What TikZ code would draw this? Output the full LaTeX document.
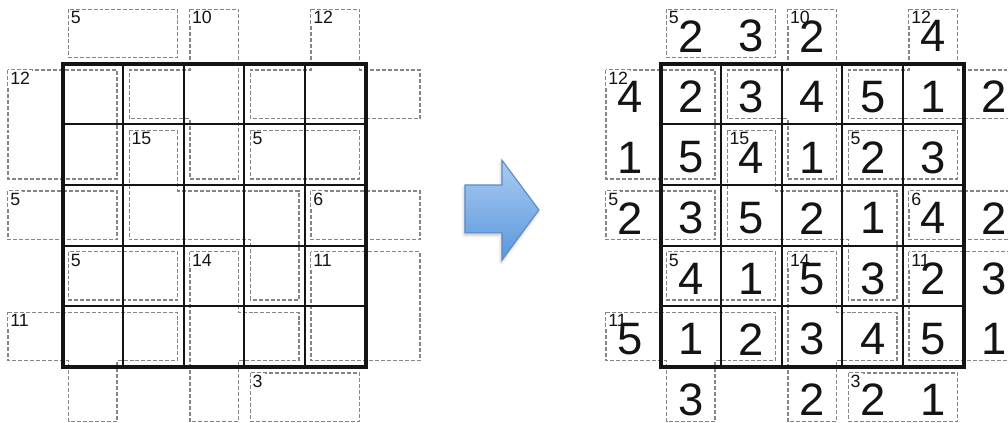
\documentclass[tikz,border=0pt]{standalone}
\usepackage{fontspec}
\setmainfont{Liberation Sans}
\usetikzlibrary{shadows.blur}

\definecolor{ink}{HTML}{141414}
\definecolor{cagegray}{HTML}{858585}
\definecolor{arrowtop}{HTML}{A9CBF2}
\definecolor{arrowbot}{HTML}{5B97DD}
\definecolor{arrowrim}{HTML}{5C8BC8}

\tikzset{
  font=\fontsize{12}{12}\selectfont,
  %
  cell/.style={draw=ink, line width=1.3pt},
  frame/.style={draw=ink, line width=2.8pt},
  cageline/.style={draw=cagegray, line width=1pt, dash pattern=on 2.8pt off 1.4pt},
  %
  sum/.style={anchor=north west, fill=white, inner sep=1.4pt, text=ink,
              font=\fontsize{12.5}{12.5}\selectfont},
  digit/.style={inner sep=0pt, text=ink, yshift=-2pt,
                font=\fontsize{32}{32}\selectfont},
  %
  bigarrow/.style={draw=arrowrim, line width=0.8pt, top color=arrowtop,
                   bottom color=arrowbot,
                   blur shadow={shadow xshift=-0.5pt, shadow yshift=-1.5pt,
                                shadow opacity=25}},
}

% cages of the puzzle, inset from the cell edges; #1 prefixes node names
\newcommand{\cagelines}[1]{%
  \draw[cageline] (1.1,6.9) rectangle (2.9,6.1);
  \draw[cageline] (3.1,6.9) -- (3.9,6.9) -- (3.9,4.1) -- (3.1,4.1) -- (3.1,5.1)
    -- (2.1,5.1) -- (2.1,5.9) -- (3.1,5.9) -- cycle;
  \draw[cageline] (5.1,6.9) -- (5.9,6.9) -- (5.9,5.9) -- (6.9,5.9) -- (6.9,5.1)
    -- (4.1,5.1) -- (4.1,5.9) -- (5.1,5.9) -- cycle;
  \draw[cageline] (0.1,5.9) rectangle (1.9,4.1);
  \draw[cageline] (2.1,4.9) -- (2.9,4.9) -- (2.9,3.9) -- (4.9,3.9) -- (4.9,2.1)
    -- (4.1,2.1) -- (4.1,3.1) -- (2.1,3.1) -- cycle;
  \draw[cageline] (4.1,4.9) rectangle (5.9,4.1);
  \draw[cageline] (0.1,3.9) rectangle (1.9,3.1);
  \draw[cageline] (5.1,3.9) rectangle (6.9,3.1);
  \draw[cageline] (1.1,2.9) rectangle (2.9,2.1);
  \draw[cageline] (3.1,2.9) -- (3.9,2.9) -- (3.9,1.9) -- (4.9,1.9) -- (4.9,1.1)
    -- (3.9,1.1) -- (3.9,0.1) -- (3.1,0.1) -- cycle;
  \draw[cageline] (5.1,2.9) rectangle (6.9,1.1);
  \draw[cageline] (0.1,1.9) -- (2.9,1.9) -- (2.9,1.1) -- (1.9,1.1) -- (1.9,0.1)
    -- (1.1,0.1) -- (1.1,1.1) -- (0.1,1.1) -- cycle;
  \draw[cageline] (4.1,0.9) rectangle (5.9,0.1);
  % sums
  \foreach \x/\y/\s [count=\i] in {1.1/6.9/5, 3.1/6.9/10, 5.1/6.9/12,
      0.1/5.9/12, 2.1/4.9/15, 4.1/4.9/5, 0.1/3.9/5, 5.1/3.9/6, 1.1/2.9/5,
      3.1/2.9/14, 5.1/2.9/11, 0.1/1.9/11, 4.1/0.9/3}
    \node[sum] (#1-sum\i) at (\x,\y) {\s};
}

% the 5x5 grid with its heavy frame
\newcommand{\gridframe}{%
  \foreach \k in {2,...,5} {
    \draw[cell] (\k,1) -- (\k,6);
    \draw[cell] (1,\k) -- (6,\k);
  }
  \draw[frame] (1,1) rectangle (6,6);
}

\begin{document}
\begin{tikzpicture}[x=1.5cm, y=1.5cm]

  \clip (-0.033,0.073) rectangle (16.601,7.053);

  % puzzle
  \cagelines{P}
  \gridframe

  % arrow
  \path[bigarrow] (7.64,3.21) -- (7.64,4.0) -- (8.25,4.0) -- (8.25,4.41)
    -- (8.86,3.59) -- (8.25,2.76) -- (8.25,3.21) -- cycle;

  % solution
  \begin{scope}[shift={(9.868,0)}]
    \cagelines{S}
    \gridframe
    \foreach \c/\r/\v in {
        1/0/2, 2/0/3, 3/0/2, 5/0/4,
        0/1/4, 1/1/2, 2/1/3, 3/1/4, 4/1/5, 5/1/1, 6/1/2,
        0/2/1, 1/2/5, 2/2/4, 3/2/1, 4/2/2, 5/2/3,
        0/3/2, 1/3/3, 2/3/5, 3/3/2, 4/3/1, 5/3/4, 6/3/2,
        1/4/4, 2/4/1, 3/4/5, 4/4/3, 5/4/2, 6/4/3,
        0/5/5, 1/5/1, 2/5/2, 3/5/3, 4/5/4, 5/5/5, 6/5/1,
        1/6/3, 3/6/2, 4/6/2, 5/6/1}
      \node[digit] (S-\r-\c) at (\c+0.5,6.5-\r) {\v};
  \end{scope}

\end{tikzpicture}
\end{document}
